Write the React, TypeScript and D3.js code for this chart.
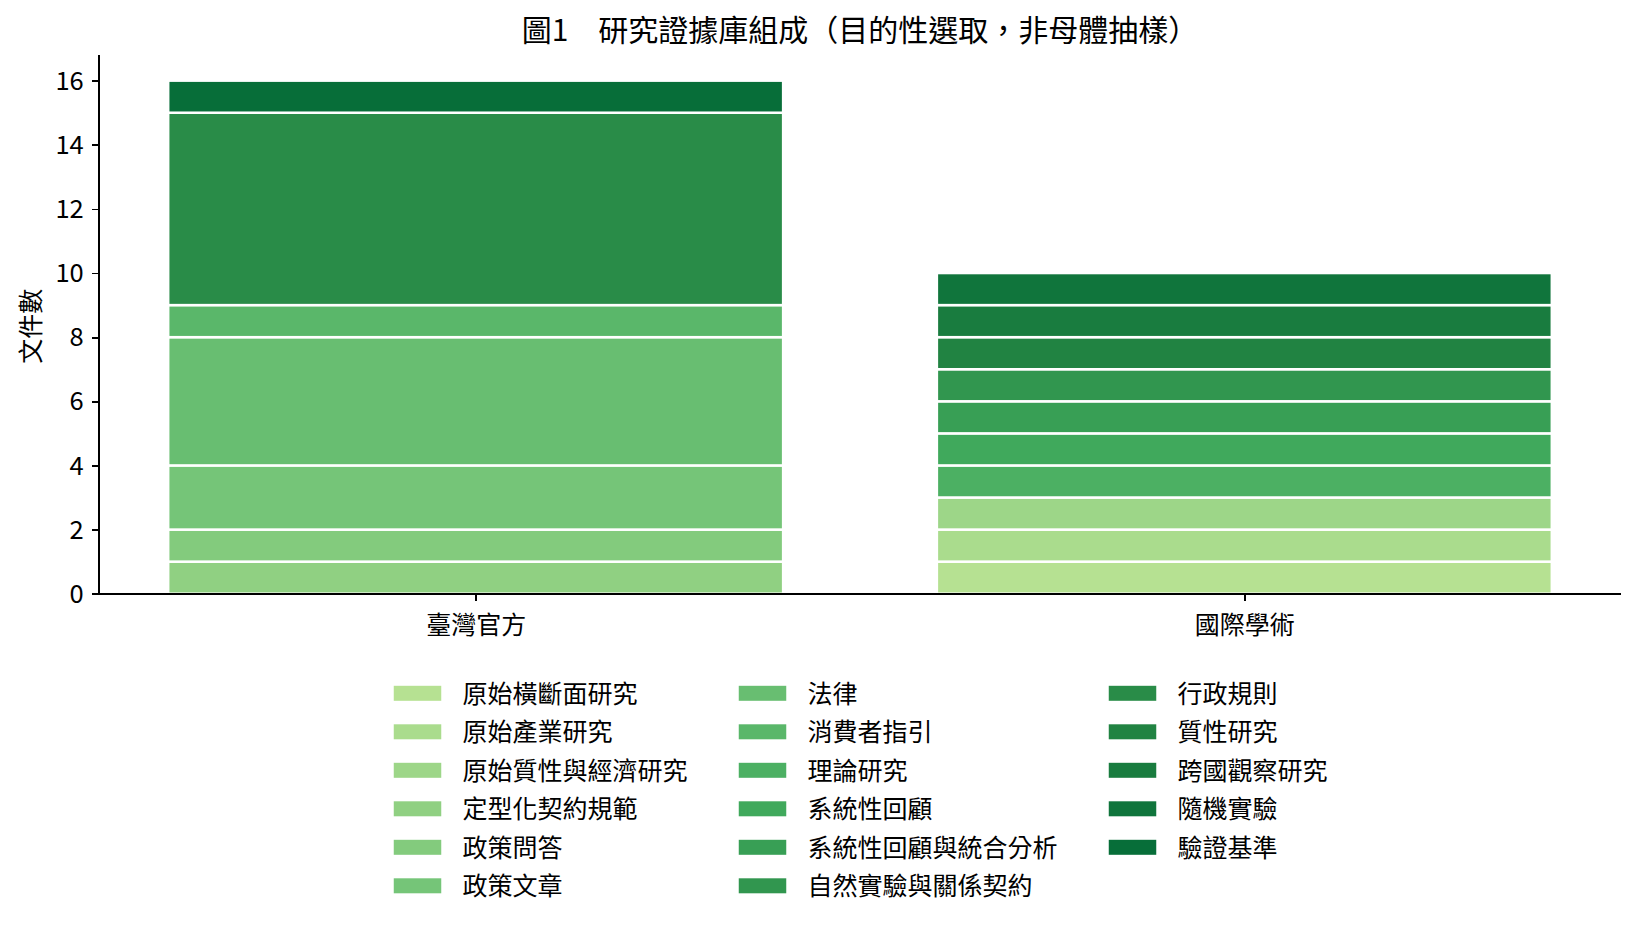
import * as d3 from 'd3';
import { useEffect, useRef } from 'react';

const categories = ['臺灣官方', '國際學術'];

const docTypes = [
    '原始橫斷面研究', '原始產業研究', '原始質性與經濟研究', '定型化契約規範', '政策問答', '政策文章',
    '法律', '消費者指引', '理論研究', '系統性回顧', '系統性回顧與統合分析', '自然實驗與關係契約',
    '行政規則', '質性研究', '跨國觀察研究', '隨機實驗', '驗證基準',
];

const taiwanCounts = [0, 0, 0, 1, 1, 2, 4, 1, 0, 0, 0, 0, 6, 0, 0, 0, 1];
const intlCounts = [1, 1, 1, 0, 0, 0, 0, 0, 1, 1, 1, 1, 0, 1, 1, 1, 0];

const yTicks = [0, 2, 4, 6, 8, 10, 12, 14, 16];

const titleText = '圖1\u3000研究證據庫組成（目的性選取，非母體抽樣）';
const yLabel = '文件數';

// matplotlib YlGn stops, linear between them
const ylgn = ['#ffffe5', '#f7fcb9', '#d9f0a3', '#addd8e', '#78c679', '#41ab5d', '#238443', '#006837', '#004529'];

const FONT = '"Noto Sans CJK TC", "Noto Sans", sans-serif';

export default function App() {
    const svgRef = useRef<SVGSVGElement>(null);
    const W = 1638;
    const H = 928;
    const margin = { top: 55, left: 99, right: W - 1621, bottom: H - 593.7 };

    useEffect(() => {
        const svg = d3.select(svgRef.current);
        svg.selectAll('*').remove();

        const cmap = d3.scaleLinear<string>()
            .domain(ylgn.map((_, i) => i / (ylgn.length - 1)))
            .range(ylgn)
            .interpolate(d3.interpolateRgb);
        const color = (i: number) => cmap(0.35 + (0.5 * i) / (docTypes.length - 1));

        const x = d3.scaleLinear().domain([-0.49, 1.49]).range([margin.left, W - margin.right]);
        const y = d3.scaleLinear().domain([0, 16.8]).range([H - margin.bottom, margin.top]);

        const rows = categories.map((c, ci) => {
            const row: Record<string, number | string> = { cat: c };
            const src = ci === 0 ? taiwanCounts : intlCounts;
            docTypes.forEach((t, i) => { row[t] = src[i]; });
            return row;
        });
        const stacked = d3.stack<Record<string, number | string>>().keys(docTypes)(rows);

        svg.append('rect').attr('width', W).attr('height', H).attr('fill', 'white');

        // bars
        stacked.forEach((series, si) => {
            series.forEach((seg, ci) => {
                if (seg[1] - seg[0] <= 0) return;
                svg.append('rect')
                    .attr('x', x(ci - 0.4))
                    .attr('width', x(ci + 0.4) - x(ci - 0.4))
                    .attr('y', y(seg[1]))
                    .attr('height', y(seg[0]) - y(seg[1]))
                    .attr('fill', color(si))
                    .attr('stroke', 'white')
                    .attr('stroke-width', 2.5);
            });
        });

        // y axis
        const yAxis = svg.append('g')
            .attr('transform', `translate(${margin.left},0)`)
            .call(d3.axisLeft(y).tickValues(yTicks).tickSize(7.3).tickPadding(8));
        yAxis.select('.domain').attr('stroke', 'black').attr('stroke-width', 1.7)
            .attr('d', `M0,${y(0)}V${margin.top}`);
        yAxis.selectAll('.tick line').attr('stroke', 'black').attr('stroke-width', 1.7);
        yAxis.selectAll('.tick text')
            .attr('font-family', FONT).attr('font-size', 25.5).attr('fill', '#000')
            .attr('dy', '0.34em');

        // x axis
        const xAxis = svg.append('g')
            .attr('transform', `translate(0,${y(0)})`)
            .call(d3.axisBottom(x).tickValues([0, 1]).tickSize(7.3).tickPadding(9)
                .tickFormat((d) => categories[d as number]));
        xAxis.select('.domain').attr('stroke', 'black').attr('stroke-width', 1.7)
            .attr('d', `M${margin.left},0H${W - margin.right}`);
        xAxis.selectAll('.tick line').attr('stroke', 'black').attr('stroke-width', 1.7);
        xAxis.selectAll('.tick text')
            .attr('font-family', FONT).attr('font-size', 25).attr('fill', '#000')
            .attr('dy', null).attr('y', 40);

        svg.selectAll('.domain, .tick line').attr('shape-rendering', 'crispEdges');

        // title
        const midX = (margin.left + W - margin.right) / 2;
        svg.append('text')
            .attr('x', midX)
            .attr('y', 41)
            .attr('text-anchor', 'middle')
            .attr('font-family', FONT)
            .attr('font-size', 30)
            .text(titleText);

        // y label
        const midY = (margin.top + y(0)) / 2;
        svg.append('text')
            .attr('transform', `translate(40,${midY + 2}) rotate(-90)`)
            .attr('text-anchor', 'middle')
            .attr('font-family', FONT)
            .attr('font-size', 25)
            .text(yLabel);

        // legend, 3 columns filled column-first
        const fs = 25;
        const handleW = 50;
        const handleH = 17.5;
        const textPad = 20;
        const colGap = 50;
        const rowH = 38.5;
        const nRows = Math.ceil(docTypes.length / 3);
        const cols = d3.range(3).map((c) => docTypes.slice(c * nRows, (c + 1) * nRows));
        const colWidths = cols.map((col) => handleW + textPad + d3.max(col, (t) => t.length * fs)!);
        const totalW = d3.sum(colWidths) + colGap * (cols.length - 1);
        let cx = midX - totalW / 2;
        const legendTop = 693.3;
        const legend = svg.append('g');
        cols.forEach((col, c) => {
            col.forEach((t, r) => {
                const idx = c * nRows + r;
                const cy = legendTop + r * rowH;
                legend.append('rect')
                    .attr('x', cx)
                    .attr('y', cy - handleH / 2)
                    .attr('width', handleW)
                    .attr('height', handleH)
                    .attr('fill', color(idx))
                    .attr('stroke', 'white')
                    .attr('stroke-width', 2.5);
                legend.append('text')
                    .attr('x', cx + handleW + textPad)
                    .attr('y', cy + 0.37 * fs)
                    .attr('font-family', FONT)
                    .attr('font-size', fs)
                    .text(t);
            });
            cx += colWidths[c] + colGap;
        });
    }, []);

    return (
        <svg
            ref={svgRef}
            width={W}
            height={H}
            style={{ position: 'absolute', left: 0, top: 0, display: 'block' }}
        />
    );
}
